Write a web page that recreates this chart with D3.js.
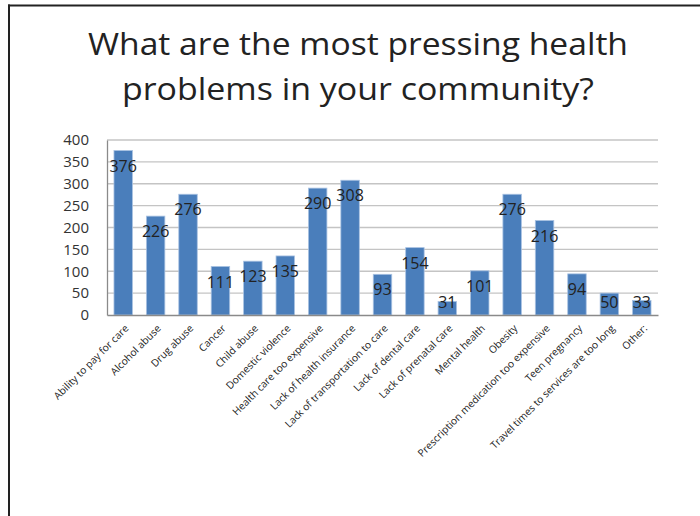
<!DOCTYPE html>
<html>
<head>
<meta charset="utf-8">
<script src="https://cdn.jsdelivr.net/npm/d3@7/dist/d3.min.js"></script>
<style>
  html, body { margin: 0; padding: 0; background: #fff; }
  svg { display: block; }
</style>
</head>
<body>
<svg id="chart" width="700" height="516"></svg>
<script>
const titleLines = ["What are the most pressing health", "problems in your community?"];
const categories = [
  "Ability to pay for care", "Alcohol abuse", "Drug abuse", "Cancer", "Child abuse",
  "Domestic violence", "Health care too expensive", "Lack of health insurance",
  "Lack of transportation to care", "Lack of dental care", "Lack of prenatal care",
  "Mental health", "Obesity", "Prescription medication too expensive", "Teen pregnancy",
  "Travel times to services are too long", "Other:"
];
const values = [376, 226, 276, 111, 123, 135, 290, 308, 93, 154, 31, 101, 276, 216, 94, 50, 33];
const yTicks = [0, 50, 100, 150, 200, 250, 300, 350, 400];

const svg = d3.select("#chart");
const font = "'Open Sans', 'Noto Sans', sans-serif";

// frame
svg.append("line").attr("x1", 8).attr("x2", 700).attr("y1", 5.5).attr("y2", 5.5)
  .attr("stroke", "#222").attr("stroke-width", 2);
svg.append("line").attr("x1", 9).attr("x2", 9).attr("y1", 4.5).attr("y2", 516)
  .attr("stroke", "#222").attr("stroke-width", 2);

// title
const titleSpec = [{y: 55, w: 540}, {y: 100, w: 472}];
titleLines.forEach((t, i) => {
  const el = svg.append("text")
    .attr("x", 358).attr("y", titleSpec[i].y)
    .attr("text-anchor", "middle")
    .attr("font-family", font).attr("font-size", 31)
    .attr("fill", "#222")
    .text(t);
  const len = el.node().getComputedTextLength();
  if (Math.abs(len - titleSpec[i].w) > 4) {
    el.attr("textLength", titleSpec[i].w).attr("lengthAdjust", "spacingAndGlyphs");
  }
});

const pLeft = 107, pRight = 658, pTop = 140, pBottom = 315;
const x = d3.scaleBand().domain(categories).range([pLeft, pRight]).paddingInner(0.43).paddingOuter(0.215);
const y = d3.scaleLinear().domain([0, 400]).range([pBottom, pTop]);

// gridlines
svg.append("g").selectAll("line").data(yTicks.filter(d => d > 0)).join("line")
  .attr("x1", pLeft).attr("x2", pRight)
  .attr("y1", d => y(d)).attr("y2", d => y(d))
  .attr("stroke", "#c4c4c4").attr("stroke-width", 1.3);

// y axis labels
const yAxis = d3.axisLeft(y).tickValues(yTicks).tickSize(0).tickPadding(18);
const gy = svg.append("g").attr("transform", `translate(${pLeft},0)`).call(yAxis);
gy.select(".domain").attr("stroke", "#8a8a8a").attr("stroke-width", 1.3);
gy.selectAll("text").attr("font-family", font).attr("font-size", 15).attr("fill", "#333");

// bars
svg.append("g").selectAll("rect").data(values).join("rect")
  .attr("x", (d, i) => x(categories[i]))
  .attr("width", x.bandwidth())
  .attr("y", d => y(d))
  .attr("height", d => pBottom - y(d))
  .attr("fill", "#4a7ebb")
  .attr("stroke", "#a9c2e2").attr("stroke-width", 0.8);

// x axis
const xAxis = d3.axisBottom(x).tickSize(0).tickPadding(0);
const gx = svg.append("g").attr("transform", `translate(0,${pBottom})`).call(xAxis);
gx.select(".domain").attr("stroke", "#8a8a8a").attr("stroke-width", 1.3);
gx.selectAll("text")
  .attr("font-family", font).attr("font-size", 10.2).attr("fill", "#222")
  .attr("text-anchor", "end")
  .attr("dy", null).attr("y", 0)
  .attr("transform", `translate(6,14) rotate(-45)`)
  .attr("x", 0);

// value labels
svg.append("g").selectAll("text").data(values).join("text")
  .attr("x", (d, i) => x(categories[i]) + x.bandwidth() / 2)
  .attr("y", d => Math.min(y(d) + 15.5, 302))
  .attr("dy", "0.35em")
  .attr("text-anchor", "middle")
  .attr("font-family", font).attr("font-size", 16)
  .attr("fill", "#222")
  .text(d => d);
</script>
</body>
</html>
